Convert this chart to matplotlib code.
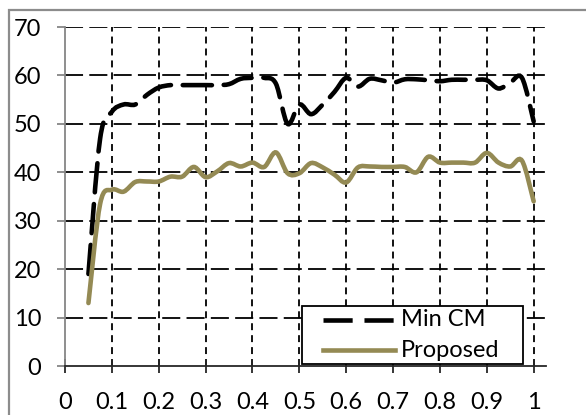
import matplotlib
matplotlib.use("Agg")
import matplotlib.pyplot as plt
from matplotlib.path import Path
from matplotlib.patches import PathPatch, Rectangle
from matplotlib.lines import Line2D

plt.rcParams["lines.scale_dashes"] = False
plt.rcParams["font.family"] = ["Lato", "DejaVu Sans"]

# data
x_vals = [0.05, 0.075, 0.1, 0.125, 0.15, 0.175, 0.2, 0.225, 0.25, 0.275,
          0.3, 0.325, 0.35, 0.375, 0.4, 0.425, 0.45, 0.475, 0.5, 0.525,
          0.55, 0.575, 0.6, 0.625, 0.65, 0.675, 0.7, 0.725, 0.75, 0.775,
          0.8, 0.825, 0.85, 0.875, 0.9, 0.925, 0.95, 0.975, 1.0]
min_cm = [19, 47, 52.5, 54, 54, 56, 57.5, 58, 58, 58,
          58, 58, 58.2, 59.3, 59.5, 59.5, 58.3, 50, 54, 52,
          54, 56.6, 59.5, 57.7, 59.3, 59, 58.5, 59.2, 59.2, 59,
          58.8, 59.1, 59.1, 59.1, 59, 57.3, 58.5, 59.5, 50.5]
proposed = [13, 33.5, 36.4, 36, 38, 38.1, 38.1, 39.1, 39.1, 41.1,
            39, 40.2, 41.9, 41.2, 42, 41.1, 44.1, 39.8, 39.8, 41.9,
            41, 39.5, 37.9, 41, 41.2, 41.1, 41.1, 41.1, 40, 43.2,
            42, 42, 42, 42, 44, 42, 41.2, 42.4, 34]
series_names = ["Min CM", "Proposed"]
x_ticks = [0, 0.1, 0.2, 0.3, 0.4, 0.5, 0.6, 0.7, 0.8, 0.9, 1]
x_tick_labels = ["0", "0.1", "0.2", "0.3", "0.4", "0.5", "0.6", "0.7", "0.8", "0.9", "1"]
y_ticks = [0, 10, 20, 30, 40, 50, 60, 70]

OLIVE = "#948A54"
FS = 17
MIN_DASH = (0, (21, 8.5))


def smooth_path(xs, ys):
    # Excel-like smoothed line: cubic bezier through the points (catmull-rom tangents)
    pts = list(zip(xs, ys))
    n = len(pts)
    verts = [pts[0]]
    codes = [Path.MOVETO]
    for i in range(n - 1):
        p0 = pts[max(i - 1, 0)]
        p1 = pts[i]
        p2 = pts[i + 1]
        p3 = pts[min(i + 2, n - 1)]
        c1 = (p1[0] + (p2[0] - p0[0]) / 6, p1[1] + (p2[1] - p0[1]) / 6)
        c2 = (p2[0] - (p3[0] - p1[0]) / 6, p2[1] - (p3[1] - p1[1]) / 6)
        verts += [c1, c2, p2]
        codes += [Path.CURVE4] * 3
    return Path(verts, codes)


fig = plt.figure(figsize=(5.86, 4.15), dpi=100)
ax = fig.add_axes([65 / 586, 49 / 415, 481 / 586, 339 / 415])

# outer chart frame
fig.patches.append(Rectangle((9 / 586, -0.05), 1.1, 1 - 10 / 415 + 0.05,
                             transform=fig.transFigure, fill=False,
                             edgecolor="#8c8c8c", linewidth=1.6))

ax.set_xlim(0, 1.0263)
ax.set_ylim(0, 70)
ax.set_xticks(x_ticks)
ax.set_xticklabels(x_tick_labels)
ax.set_yticks(y_ticks)

for y in y_ticks[1:]:
    ax.axhline(y, color="black", linewidth=1.3, linestyle=(0, (13, 4.5)), zorder=1)
for xv in x_ticks[1:]:
    ax.axvline(xv, color="black", linewidth=1.3, linestyle=(0, (5, 3.6)), zorder=1)

ax.add_patch(PathPatch(smooth_path(x_vals, min_cm), fill=False, edgecolor="black",
                       linewidth=3.3, linestyle=MIN_DASH, capstyle="round", zorder=3))
ax.add_patch(PathPatch(smooth_path(x_vals, proposed), fill=False, edgecolor=OLIVE,
                       linewidth=3.3, capstyle="round", zorder=4))

for side in ["top", "right"]:
    ax.spines[side].set_visible(False)
ax.spines["left"].set_color("#868686")
ax.spines["left"].set_linewidth(1.3)
ax.spines["bottom"].set_color("#262626")
ax.spines["bottom"].set_linewidth(1.3)
ax.spines["bottom"].set_zorder(5)

ax.tick_params(axis="y", direction="out", length=6, width=1.3, color="#868686",
               pad=11, labelsize=FS, labelcolor="black")
ax.tick_params(axis="x", direction="inout", length=10, width=1.3, color="#262626",
               pad=14, labelsize=FS, labelcolor="black")

# legend box, drawn by hand to get Excel's wide side padding
ax.add_patch(Rectangle((0.492, 0.006), 0.461, 0.171, transform=ax.transAxes,
                       facecolor="white", edgecolor="black", linewidth=1.3, zorder=6))
legend_rows = [(0.136, "black", MIN_DASH), (0.047, OLIVE, "-")]
for name, (ly, col, ls) in zip(series_names, legend_rows):
    ax.add_line(Line2D([0.536, 0.686], [ly, ly], transform=ax.transAxes, color=col,
                       linewidth=3.3, linestyle=ls, zorder=7))
    ax.text(0.698, ly, name, transform=ax.transAxes, fontsize=FS, va="center",
            ha="left", zorder=7)

fig.savefig("out.png", dpi=100)
